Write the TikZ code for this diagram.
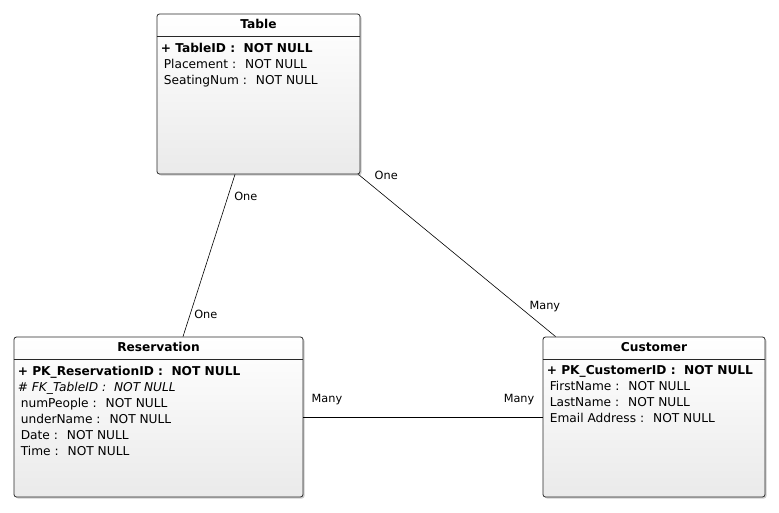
\documentclass[tikz,border=0pt]{standalone}
\usepackage{fontspec}
\setmainfont{DejaVu Sans}
\usepackage{xcolor}
\usetikzlibrary{positioning, calc, shadows}
\definecolor{ERBorder}{RGB}{40, 40, 40}
\definecolor{ERShadeTop}{RGB}{255, 255, 255}
\definecolor{ERShadeBottom}{RGB}{234, 234, 234}
\definecolor{ERShadow}{RGB}{185, 185, 185}

\begin{document}
\begin{tikzpicture}[x=1pt, y=-1pt,
    entity/.style={rounded corners=2.5pt, draw=ERBorder, line width=0.8pt,
      top color=ERShadeTop, bottom color=ERShadeBottom, inner sep=0pt,
      drop shadow={shadow xshift=1.5pt, shadow yshift=-1.5pt, fill=ERShadow, opacity=0.7}},
    etitle/.style={font=\fontsize{12.2}{14}\selectfont\bfseries, inner sep=0pt},
    attrs/.style={font=\fontsize{12.2}{16}\selectfont, align=left, anchor=north west, inner sep=0pt},
    rel/.style={draw=black, line width=0.6pt},
    card/.style={font=\fontsize{11.3}{13}\selectfont, inner sep=1pt}]
  \useasboundingbox (0,0) rectangle (779,512);

  % entities
  \node[entity, minimum width=203pt, minimum height=160pt] (tbl) at (258.5,94) {};
  \node[entity, minimum width=289pt, minimum height=160pt] (res) at (158.5,417) {};
  \node[entity, minimum width=222pt, minimum height=160pt] (cus) at (654,417) {};

  % headers
  \node[etitle] (tblName) at ([yshift=-10pt]tbl.north) {Table};
  \node[etitle] (resName) at ([yshift=-10pt]res.north) {Reservation};
  \node[etitle] (cusName) at ([yshift=-10pt]cus.north) {Customer};
  \draw[ERBorder, line width=0.6pt] ([yshift=-23pt]tbl.north west) -- ([yshift=-23pt]tbl.north east);
  \draw[ERBorder, line width=0.6pt] ([yshift=-23pt]res.north west) -- ([yshift=-23pt]res.north east);
  \draw[ERBorder, line width=0.6pt] ([yshift=-23pt]cus.north west) -- ([yshift=-23pt]cus.north east);

  % attributes
  \node[attrs] (tblAttrs) at ([xshift=4pt, yshift=-29pt]tbl.north west) {
    \textbf{+ TableID :~ NOT NULL}\\
    \hspace*{3pt}Placement :~ NOT NULL\\
    \hspace*{3pt}SeatingNum :~ NOT NULL};
  \node[attrs] (resAttrs) at ([xshift=4pt, yshift=-29pt]res.north west) {
    \textbf{+ PK\_ReservationID :~ NOT NULL}\\
    \textit{\# FK\_TableID :~ NOT NULL}\\
    \hspace*{3pt}numPeople :~ NOT NULL\\
    \hspace*{3pt}underName :~ NOT NULL\\
    \hspace*{3pt}Date :~ NOT NULL\\
    \hspace*{3pt}Time :~ NOT NULL};
  \node[attrs] (cusAttrs) at ([xshift=4pt, yshift=-29pt]cus.north west) {
    \textbf{+ PK\_CustomerID :~ NOT NULL}\\
    \hspace*{3pt}FirstName :~ NOT NULL\\
    \hspace*{3pt}LastName :~ NOT NULL\\
    \hspace*{3pt}Email Address :~ NOT NULL};

  % relationships
  \draw[rel] ([xshift=-23.5pt]tbl.south) --
    node[card, pos=0.135, anchor=west, xshift=5pt] (tblResOne) {One}
    node[card, pos=0.865, anchor=west, xshift=3pt] (resTblOne) {One}
    ([xshift=24.5pt]res.north);
  \draw[rel] ([xshift=-2pt]tbl.south east) --
    node[card, pos=0, anchor=west, xshift=15pt, yshift=-1pt] (tblCusOne) {One}
    node[card, pos=0.816, anchor=west, xshift=9pt] (cusTblMany) {Many}
    ([xshift=13pt]cus.north west);
  \draw[rel] (res.east) --
    node[card, pos=0, anchor=south west, xshift=7pt, yshift=11pt] (resCusMany) {Many}
    node[card, pos=1, anchor=south east, xshift=-7pt, yshift=11pt] (cusResMany) {Many}
    (cus.west);
\end{tikzpicture}
\end{document}
